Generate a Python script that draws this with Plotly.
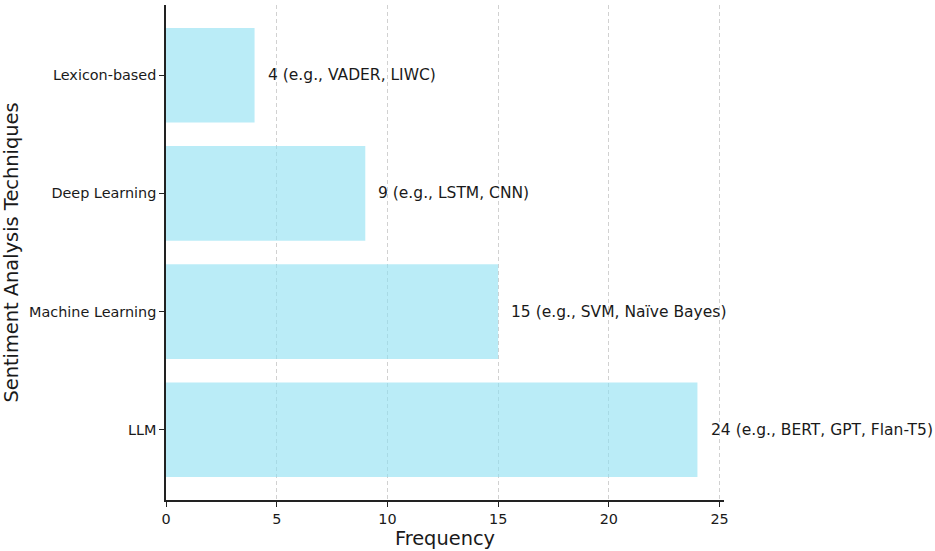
import plotly.graph_objects as go

categories = ["LLM", "Machine Learning", "Deep Learning", "Lexicon-based"]
frequencies = [24, 15, 9, 4]
examples = ["BERT, GPT, Flan-T5", "SVM, Naïve Bayes", "LSTM, CNN", "VADER, LIWC"]
x_ticks = [0, 5, 10, 15, 20, 25]

FONT = "DejaVu Sans"
bar_color = "rgba(140,223,242,0.6)"

fig = go.Figure()
fig.add_trace(go.Bar(
    x=frequencies,
    y=categories,
    orientation="h",
    width=0.8,
    marker=dict(color=bar_color, line=dict(width=0)),
    hoverinfo="skip",
))

offset = 0.5
for cat, f, ex in zip(categories, frequencies, examples):
    fig.add_annotation(
        x=f + offset, y=cat, xref="x", yref="y",
        text=f"{f} (e.g., {ex})",
        showarrow=False, xanchor="left", yanchor="middle",
        font=dict(family=FONT, size=15.5, color="#1a1a1a"),
    )

fig.update_layout(
    width=935, height=551,
    margin=dict(l=166, r=211, t=5, b=51),
    paper_bgcolor="white", plot_bgcolor="white",
    showlegend=False,
    font=dict(family=FONT, color="#1a1a1a"),
)

fig.update_xaxes(
    range=[0, max(frequencies) * 1.05],
    tickvals=x_ticks,
    showgrid=True, gridcolor="rgba(190,190,190,0.7)", griddash="4px,3px", gridwidth=1,
    zeroline=False,
    showline=True, linecolor="#222", linewidth=1.5,
    ticks="outside", ticklen=5, tickwidth=1.2, tickcolor="#222",
    tickfont=dict(family=FONT, size=14.4, color="#1a1a1a"),
    title=dict(text="Frequency", font=dict(family=FONT, size=19.4, color="#1a1a1a"), standoff=5),
)
fig.update_yaxes(
    range=[-0.594, 3.594],
    showgrid=False, zeroline=False,
    showline=True, linecolor="#222", linewidth=1.5,
    ticks="outside", ticklen=5, tickwidth=1.2, tickcolor="#222",
    tickfont=dict(family=FONT, size=14.4, color="#1a1a1a"),
    title=dict(text="Sentiment Analysis Techniques", font=dict(family=FONT, size=19.4, color="#1a1a1a"), standoff=10),
)

fig.write_html(
    "out.html",
    config={"displayModeBar": False},
    post_script="document.body.style.margin='0';document.body.style.padding='0';",
)
